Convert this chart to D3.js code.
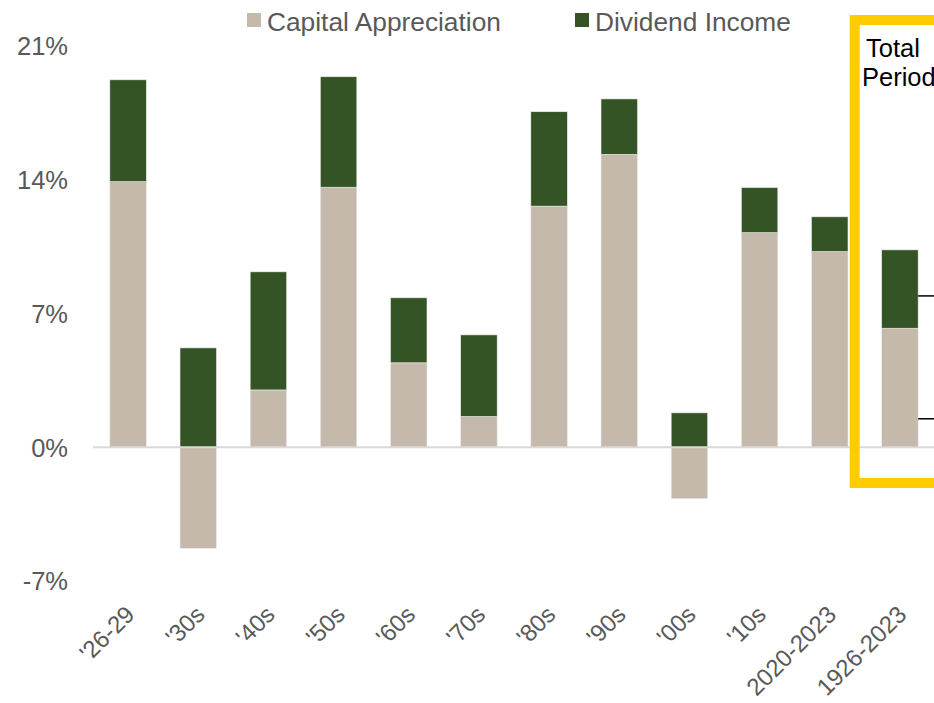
<!DOCTYPE html>
<html>
<head>
<meta charset="utf-8">
<script src="https://cdn.jsdelivr.net/npm/d3@7"></script>
<style>
  body { margin: 0; background: #fff; overflow: hidden; }
  svg { display: block; font-family: "Liberation Sans", Arial, sans-serif; }
</style>
</head>
<body>
<div id="chart"></div>
<script>
//////////////////////////// data /////////////////////////////////////////

const periods = ["'26-29", "'30s", "'40s", "'50s", "'60s", "'70s", "'80s", "'90s", "'00s", "'10s", "2020-2023", "1926-2023"];
const capitalAppreciation = [13.9, -5.29, 3.0, 13.61, 4.42, 1.61, 12.62, 15.33, -2.69, 11.23, 10.24, 6.23];
const dividendIncome = [5.33, 5.2, 6.18, 5.78, 3.4, 4.27, 4.94, 2.9, 1.8, 2.36, 1.82, 4.1];
const seriesNames = ["Capital Appreciation", "Dividend Income"];
const yTicks = [-7, 0, 7, 14, 21];
const bracketValues = [7.92, 1.49];

//////////////////////////// sizes ///////////////////////////////////////

const width = 934;
const height = 703;
const colors = ["#c5b9ab", "#345425"];
const textGrey = "#595959";

const svg = d3.select("#chart").append("svg")
  .attr("width", width)
  .attr("height", height);

//////////////////////////// scales //////////////////////////////////////

const table = periods.map((p, i) => ({
  period: p,
  "Capital Appreciation": capitalAppreciation[i],
  "Dividend Income": dividendIncome[i]
}));

const stacked = d3.stack()
  .keys(seriesNames)
  .offset(d3.stackOffsetDiverging)(table);

const x = d3.scaleBand()
  .domain(periods)
  .range([93, 935])
  .paddingInner(0.48)
  .paddingOuter(0.24);

const y = d3.scaleLinear()
  .domain([-7, 21])
  .range([581, 46]);

const cScale = d3.scaleOrdinal().domain(seriesNames).range(colors);

//////////////////////////// y axis //////////////////////////////////////

const yAxis = svg.append("g")
  .attr("transform", "translate(68,0)")
  .call(d3.axisLeft(y).tickValues(yTicks).tickSize(0).tickPadding(0).tickFormat(d => d + "%"));
yAxis.select(".domain").remove();
yAxis.selectAll("text")
  .attr("fill", textGrey)
  .style("font-size", "25.5px")
  .attr("dy", "0.35em");

//////////////////////////// bars ////////////////////////////////////////

svg.append("g")
  .selectAll("g")
  .data(stacked)
  .join("g")
  .attr("fill", d => cScale(d.key))
  .selectAll("rect")
  .data(d => d)
  .join("rect")
  .attr("x", d => x(d.data.period))
  .attr("width", x.bandwidth())
  .attr("y", d => y(Math.max(d[0], d[1])))
  .attr("height", d => Math.abs(y(d[0]) - y(d[1])))
  .attr("stroke", "#ececec")
  .attr("stroke-width", 0.6);

// zero line
svg.append("line")
  .attr("x1", 93).attr("x2", width)
  .attr("y1", y(0)).attr("y2", y(0))
  .attr("stroke", "#d9d9d9")
  .attr("stroke-width", 2);

//////////////////////////// x axis //////////////////////////////////////

const xAxis = svg.append("g")
  .attr("transform", `translate(0,${y(-7) + 29})`)
  .call(d3.axisBottom(x).tickSize(0).tickPadding(0));
xAxis.select(".domain").remove();
xAxis.selectAll("text")
  .attr("fill", textGrey)
  .style("font-size", "24px")
  .attr("text-anchor", "end")
  .attr("y", 0)
  .attr("dy", "0.35em")
  .attr("transform", "translate(2,0) rotate(-45)");

//////////////////////////// legend //////////////////////////////////////

const legendX = [247, 575];
const legend = svg.append("g")
  .selectAll("g")
  .data(seriesNames)
  .join("g")
  .attr("transform", (d, i) => `translate(${legendX[i]},13)`);
legend.append("rect")
  .attr("width", 14).attr("height", 14)
  .attr("fill", d => cScale(d));
legend.append("text")
  .attr("x", 20).attr("y", 18)
  .attr("fill", textGrey)
  .style("font-size", "26.3px")
  .text(d => d);

//////////////////////////// total period box ////////////////////////////

const last = periods[periods.length - 1];
svg.append("rect")
  .attr("x", x(last) - 27)
  .attr("y", 20)
  .attr("width", 200)
  .attr("height", 463)
  .attr("fill", "none")
  .attr("stroke", "#ffcc00")
  .attr("stroke-width", 10);

svg.append("text")
  .attr("fill", "#000")
  .style("font-size", "25.5px")
  .selectAll("tspan")
  .data(["Total", "Period"])
  .join("tspan")
  .attr("x", (d, i) => i ? 862 : 866)
  .attr("y", (d, i) => 57 + i * 29)
  .text(d => d);

// bracket ticks to the right of the total bar
svg.selectAll(".bracket")
  .data(bracketValues)
  .join("line")
  .attr("class", "bracket")
  .attr("x1", x(last) + x.bandwidth())
  .attr("x2", width)
  .attr("y1", d => y(d)).attr("y2", d => y(d))
  .attr("stroke", "#000")
  .attr("stroke-width", 1.5);
</script>
</body>
</html>
